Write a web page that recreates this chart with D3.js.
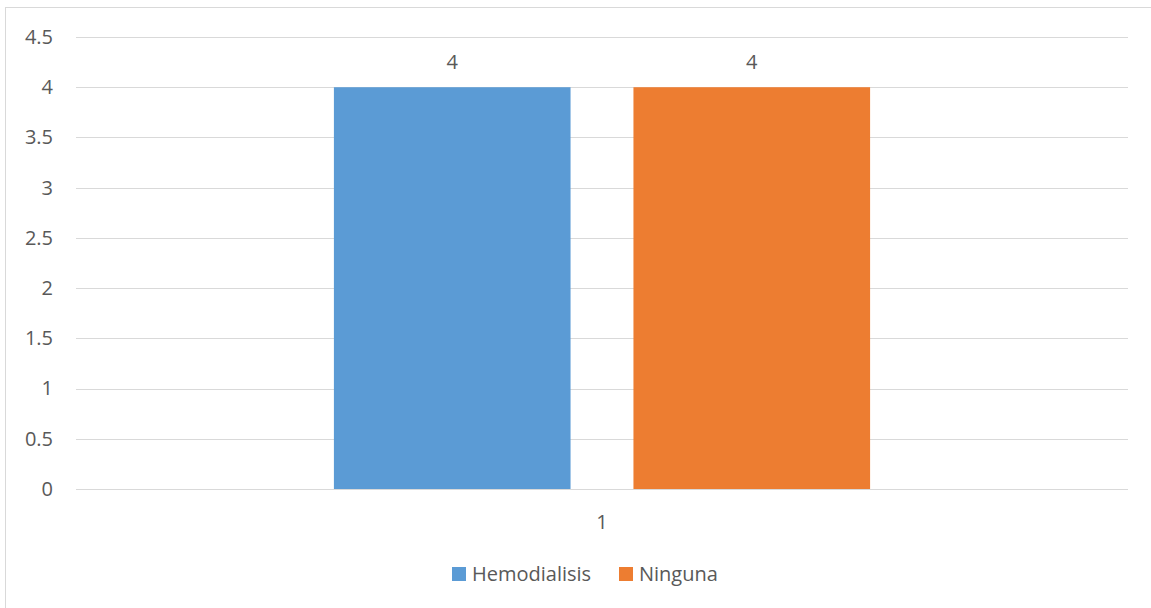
<!DOCTYPE html>
<html>
<head>
<meta charset="utf-8">
<script src="https://cdn.jsdelivr.net/npm/d3@7"></script>
<style>
  html, body { margin: 0; padding: 0; background: #fff; }
  svg text { font-family: "Open Sans", "Noto Sans", sans-serif; fill: #595959; }
</style>
</head>
<body>
<svg id="chart" width="1151" height="608"></svg>
<script>
// Data
const categories = ["1"];
const seriesNames = ["Hemodialisis", "Ninguna"];
const seriesValues = [[4], [4]];
const seriesColors = ["#5b9bd5", "#ed7d31"];
const yTicks = [0, 0.5, 1, 1.5, 2, 2.5, 3, 3.5, 4, 4.5];

const svg = d3.select("#chart");
const W = 1151, H = 608;
const FONT = '"Open Sans", "Noto Sans", sans-serif';
const FS = 20;

// Outer chart frame
svg.append("rect")
  .attr("x", 5.5).attr("y", 7.5)
  .attr("width", W).attr("height", H)
  .attr("fill", "#fff").attr("stroke", "#d9d9d9").attr("stroke-width", 1);

const plot = { left: 76, right: 1128, top: 37, bottom: 489 };

const y = d3.scaleLinear().domain([0, 4.5]).range([plot.bottom, plot.top]);
const x0 = d3.scaleBand().domain(categories).range([plot.left, plot.right]).paddingInner(0).paddingOuter(0.481);
const x1 = d3.scaleBand().domain(seriesNames).range([0, x0.bandwidth()]).paddingInner(0.21);

// Horizontal gridlines
svg.append("g").selectAll("line").data(yTicks).join("line")
  .attr("x1", plot.left).attr("x2", plot.right)
  .attr("y1", d => Math.round(y(d)) + 0.5).attr("y2", d => Math.round(y(d)) + 0.5)
  .attr("stroke", "#d9d9d9").attr("stroke-width", 1);

// Y axis labels
const yAxis = d3.axisLeft(y).tickValues(yTicks).tickSize(0).tickPadding(0).tickFormat(d3.format(""));
const gy = svg.append("g").attr("transform", `translate(${plot.left - 23},0)`).call(yAxis);
gy.select(".domain").remove();
gy.selectAll("text").attr("font-size", FS).attr("fill", "#595959").attr("font-family", FONT);

// Bars
const groups = svg.append("g").selectAll("g").data(categories).join("g")
  .attr("transform", d => `translate(${x0(d)},0)`);

seriesNames.forEach((name, si) => {
  groups.append("rect")
    .attr("x", x1(name))
    .attr("y", (d, i) => y(seriesValues[si][i]))
    .attr("width", x1.bandwidth())
    .attr("height", (d, i) => y(0) - y(seriesValues[si][i]))
    .attr("fill", seriesColors[si]);
  groups.append("text")
    .attr("x", x1(name) + x1.bandwidth() / 2)
    .attr("y", (d, i) => y(seriesValues[si][i]) - 25)
    .attr("dy", "0.35em")
    .attr("text-anchor", "middle")
    .attr("font-size", FS)
    .text((d, i) => seriesValues[si][i]);
});

// Baseline axis line
svg.append("line")
  .attr("x1", plot.left).attr("x2", plot.right)
  .attr("y1", plot.bottom + 0.5).attr("y2", plot.bottom + 0.5)
  .attr("stroke", "#d9d9d9").attr("stroke-width", 1);

// Category axis label
const xAxis = d3.axisBottom(x0).tickSize(0).tickPadding(0);
const gx = svg.append("g").attr("transform", `translate(0,${plot.bottom + 33})`).call(xAxis);
gx.select(".domain").remove();
gx.selectAll("text").attr("font-size", FS).attr("fill", "#595959").attr("dy", "0.35em").attr("y", 0)
  .attr("font-family", FONT);

// Legend
const legendItems = [
  { name: seriesNames[0], color: seriesColors[0], x: 452 },
  { name: seriesNames[1], color: seriesColors[1], x: 619 }
];
const lg = svg.append("g");
legendItems.forEach(it => {
  lg.append("rect").attr("x", it.x).attr("y", 567).attr("width", 14).attr("height", 14).attr("fill", it.color);
  lg.append("text").attr("x", it.x + 20).attr("y", 574).attr("dy", "0.35em")
    .attr("font-size", FS).text(it.name);
});
</script>
</body>
</html>
